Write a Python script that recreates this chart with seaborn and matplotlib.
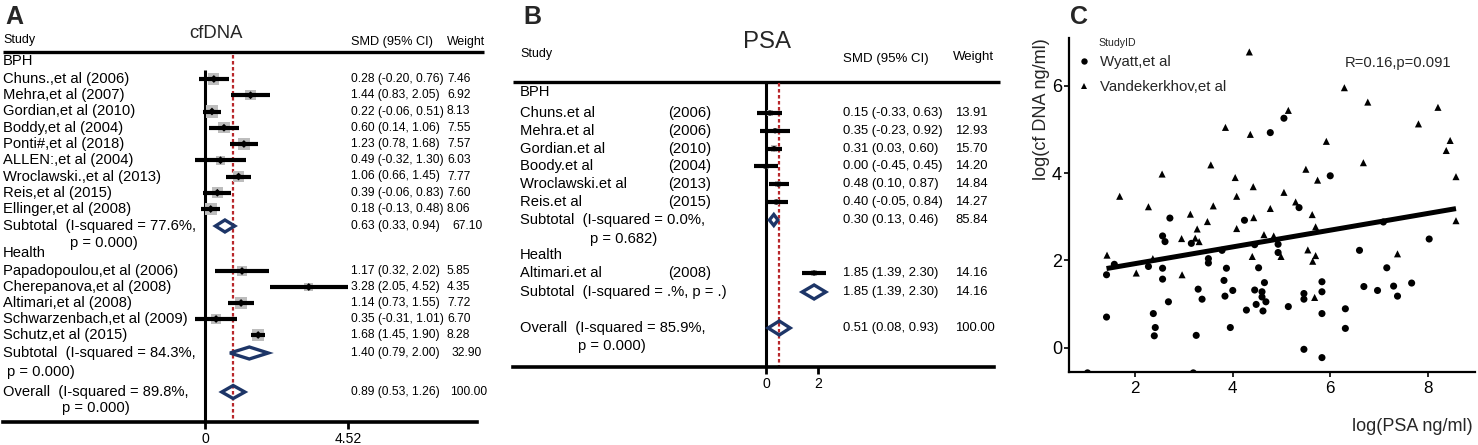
import numpy as np
import pandas as pd
import matplotlib
matplotlib.use("Agg")
import matplotlib.pyplot as plt
import seaborn as sns

# ======================= DATA =======================
# ---- Panel A : cfDNA forest plot ----
a_bph_study = ["Chuns.,et al (2006)", "Mehra,et al (2007)", "Gordian,et al (2010)",
               "Boddy,et al (2004)", "Ponti#,et al (2018)", "ALLEN:,et al (2004)",
               "Wroclawski.,et al (2013)", "Reis,et al (2015)", "Ellinger,et al (2008)"]
a_bph_smd = [0.28, 1.44, 0.22, 0.60, 1.23, 0.49, 1.06, 0.39, 0.18]
a_bph_lo = [-0.20, 0.83, -0.06, 0.14, 0.78, -0.32, 0.66, -0.06, -0.13]
a_bph_hi = [0.76, 2.05, 0.51, 1.06, 1.68, 1.30, 1.45, 0.83, 0.48]
a_bph_wt = [7.46, 6.92, 8.13, 7.55, 7.57, 6.03, 7.77, 7.60, 8.06]
a_hl_study = ["Papadopoulou,et al (2006)", "Cherepanova,et al (2008)", "Altimari,et al (2008)",
              "Schwarzenbach,et al (2009)", "Schutz,et al (2015)"]
a_hl_smd = [1.17, 3.28, 1.14, 0.35, 1.68]
a_hl_lo = [0.32, 2.05, 0.73, -0.31, 1.45]
a_hl_hi = [2.02, 4.52, 1.55, 1.01, 1.90]
a_hl_wt = [5.85, 4.35, 7.72, 6.70, 8.28]
a_sub_smd = [0.63, 1.40]
a_sub_lo = [0.33, 0.79]
a_sub_hi = [0.94, 2.00]
a_sub_wt = [67.10, 32.90]
a_sub_i2 = ["77.6%", "84.3%"]
a_sub_p = ["0.000", "0.000"]
a_all_smd = [0.89]
a_all_lo = [0.53]
a_all_hi = [1.26]
a_all_wt = [100.00]
a_all_i2 = ["89.8%"]
a_all_p = ["0.000"]
a_xticks = [0, 4.52]
a_xticklabels = ["0", "4.52"]

# ---- Panel B : PSA forest plot ----
b_bph_study = ["Chuns.et al", "Mehra.et al", "Gordian.et al", "Boody.et al",
               "Wroclawski.et al", "Reis.et al"]
b_bph_year = ["(2006)", "(2006)", "(2010)", "(2004)", "(2013)", "(2015)"]
b_bph_smd = [0.15, 0.35, 0.31, 0.00, 0.48, 0.40]
b_bph_lo = [-0.33, -0.23, 0.03, -0.45, 0.10, -0.05]
b_bph_hi = [0.63, 0.92, 0.60, 0.45, 0.87, 0.84]
b_bph_wt = [13.91, 12.93, 15.70, 14.20, 14.84, 14.27]
b_hl_study = ["Altimari.et al"]
b_hl_year = ["(2008)"]
b_hl_smd = [1.85]
b_hl_lo = [1.39]
b_hl_hi = [2.30]
b_hl_wt = [14.16]
b_sub_smd = [0.30, 1.85]
b_sub_lo = [0.13, 1.39]
b_sub_hi = [0.46, 2.30]
b_sub_wt = [85.84, 14.16]
b_sub_i2 = ["0.0%", ".%"]
b_sub_p = ["0.682", "."]
b_all_smd = [0.51]
b_all_lo = [0.08]
b_all_hi = [0.93]
b_all_wt = [100.00]
b_all_i2 = ["85.9%"]
b_all_p = ["0.000"]
b_xticks = [0, 2]
b_xticklabels = ["0", "2"]

# ---- Panel C : scatter ----
c_wyatt_psa = [4.77, 5.05, 6.00, 5.36, 8.03, 2.71, 4.24, 2.56, 2.61, 3.15,
               1.41, 1.41, 1.57, 2.27, 2.56, 2.56, 2.37, 2.41, 2.39, 2.68,
               3.50, 3.50, 3.29, 3.37, 3.25, 3.19, 1.02, 3.78, 3.82, 3.87,
               3.84, 4.00, 3.95, 4.28, 4.45, 4.45, 4.48, 4.53, 4.60, 4.60,
               4.62, 4.65, 4.68, 4.93, 4.93, 5.14, 5.46, 5.46, 5.46, 5.83,
               5.83, 5.83, 5.83, 6.31, 6.31, 6.60, 6.69, 6.97, 7.16, 7.30,
               7.38, 7.67, 7.09]
c_wyatt_dna = [4.93, 5.26, 3.94, 3.21, 2.49, 2.97, 2.92, 2.56, 2.43, 2.39,
               1.67, 0.70, 1.91, 1.86, 1.82, 1.57, 0.78, 0.46, 0.27, 1.05,
               2.04, 1.94, 1.34, 1.11, 0.28, -0.58, -0.58, 2.23, 1.54, 1.82,
               1.18, 1.31, 0.46, 0.86, 2.36, 1.32, 0.99, 1.83, 1.28, 1.16,
               0.84, 1.49, 1.05, 2.37, 2.18, 0.94, 1.24, 1.11, -0.04, 1.51,
               1.28, 0.78, -0.23, 0.89, 0.44, 2.23, 1.40, 1.31, 1.83, 1.41,
               1.18, 1.48, 2.88]
c_vdk_psa = [4.34, 3.85, 4.36, 3.55, 2.55, 4.05, 4.42, 1.68, 4.08, 2.27,
             3.60, 4.77, 5.14, 6.29, 6.77, 8.21, 7.81, 5.92, 8.46, 8.38,
             6.68, 5.74, 5.50, 8.58, 5.05, 5.29, 5.63, 5.70, 8.58, 4.84,
             3.13, 3.48, 4.43, 3.27, 4.08, 2.95, 3.23, 3.31, 4.64, 1.42,
             2.02, 2.36, 2.96, 4.40, 4.99, 5.54, 5.68, 5.64, 5.70, 7.38]
c_vdk_dna = [6.78, 5.05, 4.89, 4.19, 3.98, 3.90, 3.69, 3.47, 3.47, 3.23,
             3.25, 3.19, 5.44, 5.96, 5.63, 5.51, 5.13, 4.73, 4.75, 4.52,
             4.24, 3.84, 4.09, 3.92, 3.56, 3.34, 3.05, 2.77, 2.91, 2.56,
             3.06, 2.89, 2.98, 2.72, 2.73, 2.50, 2.51, 2.43, 2.59, 2.12,
             1.71, 2.04, 1.67, 2.09, 2.09, 2.24, 1.15, 1.98, 2.11, 2.15]
c_groups = ["Wyatt,et al", "Vandekerkhov,et al"]
c_xticks = [2, 4, 6, 8]
c_yticks = [0, 2, 4, 6]
c_stat = "R=0.16,p=0.091"

# ======================= STYLE =======================
sns.set_theme(style="white")
plt.rcParams['font.family'] = ['Liberation Sans', 'DejaVu Sans']
plt.rcParams['axes.unicode_minus'] = False

W, H, DPI = 1478, 445, 100
NAVY = "#1d3567"
RED = "#b8272b"
GRAY = "#bdbdbd"

def pt(px):
    return px * 72.0 / DPI

fig = plt.figure(figsize=(W / DPI, H / DPI), dpi=DPI)
fig.patch.set_facecolor("white")


def forest_axes(L, R, zero, scale, axis_y, ax_L, ax_R, ticks, ticklabels, tick_fs):
    ax = fig.add_axes([L / W, 0, (R - L) / W, 1])
    ax.set_facecolor("none")
    X = lambda px: (px - zero) / scale
    for s in ["left", "top", "right"]:
        ax.spines[s].set_visible(False)
    ax.spines["bottom"].set_position(("data", axis_y))
    ax.spines["bottom"].set_linewidth(2.6)
    ax.spines["bottom"].set_color("black")
    ax.spines["bottom"].set_bounds(X(ax_L), X(ax_R))
    ax.set_xticks(ticks)
    ax.set_xticklabels(ticklabels)
    ax.tick_params(axis="x", direction="out", length=5, width=2, colors="black",
                   labelsize=tick_fs, pad=2, bottom=True)
    ax.tick_params(axis="y", left=False, labelleft=False)
    ax.grid(False)
    return ax, X


def draw_studies(ax, ys, smd, lo, hi, wt, sq_sizes, pt_marker, pt_size):
    df = pd.DataFrame(dict(y=ys, smd=smd, lo=lo, hi=hi, wt=wt))
    sns.scatterplot(data=df, x="smd", y="y", size="wt", sizes=sq_sizes, marker="s",
                    color=GRAY, edgecolor="none", linewidth=0, legend=False, ax=ax, zorder=3)
    ax.hlines(df["y"], df["lo"], df["hi"], color="black", lw=3, zorder=4)
    sns.scatterplot(data=df, x="smd", y="y", marker=pt_marker, color="black", s=pt_size,
                    edgecolor="none", linewidth=0, legend=False, ax=ax, zorder=5)


def draw_diamond(ax, y, est, lo, hi, h):
    ax.fill([lo, est, hi, est], [y, y - h, y, y + h], facecolor="none",
            edgecolor=NAVY, lw=2.4, zorder=6, joinstyle="miter")


def ci_text(e, l, h):
    return f"{e:.2f} ({l:.2f}, {h:.2f})"

# ======================= PANEL A =======================
A_L, A_R, A_zero, A_scale = 0, 492, 205, 143 / 4.52
A_axis = 422
axA, XA = forest_axes(A_L, A_R, A_zero, A_scale, A_axis, 3, 477, a_xticks, a_xticklabels, pt(14))
name_fs, val_fs = pt(14.8), pt(12.0)

a_bph_y = [79 + 16.25 * i for i in range(len(a_bph_study))]
a_hl_y = [271 + 16.0 * i for i in range(len(a_hl_study))]
a_sub_y = [226, 353]
a_sub_py = [243, 372]
a_sub_px = [70, 7]
a_grp_y = [61, 253]
a_all_y, a_all_py, a_all_px = 392, 408, 62

axA.hlines(52, XA(3), XA(484), color="black", lw=2.4, zorder=2)
axA.vlines(0, 70, A_axis, color="black", lw=2.2, zorder=2)
axA.vlines(a_all_smd[0], 55, A_axis, color=RED, lw=1.6, linestyles=(0, (1.6, 1.1)), zorder=2)

draw_studies(axA, a_bph_y, a_bph_smd, a_bph_lo, a_bph_hi, a_bph_wt, (40, 75), "D", 16)
draw_studies(axA, a_hl_y, a_hl_smd, a_hl_lo, a_hl_hi, a_hl_wt, (40, 75), "D", 16)
for i in range(2):
    draw_diamond(axA, a_sub_y[i], a_sub_smd[i], a_sub_lo[i], a_sub_hi[i], 6)
draw_diamond(axA, a_all_y, a_all_smd[0], a_all_lo[0], a_all_hi[0], 6.5)

T = dict(va="center", ha="left", color="black")
axA.text(XA(3), 40, "Study", fontsize=pt(12.5), **T)
axA.text(XA(216), 33, "cfDNA", fontsize=pt(18.5), va="center", ha="center")
axA.text(XA(351), 42, "SMD (95% CI)", fontsize=pt(12.8), **T)
axA.text(XA(447), 42, "Weight", fontsize=pt(12.2), **T)
axA.text(XA(3), a_grp_y[0], "BPH", fontsize=name_fs, **T)
axA.text(XA(3), a_grp_y[1], "Health", fontsize=name_fs, **T)
for names, ys, e, l, h, w in [(a_bph_study, a_bph_y, a_bph_smd, a_bph_lo, a_bph_hi, a_bph_wt),
                              (a_hl_study, a_hl_y, a_hl_smd, a_hl_lo, a_hl_hi, a_hl_wt)]:
    for i in range(len(names)):
        axA.text(XA(3), ys[i], names[i], fontsize=name_fs, **T)
        axA.text(XA(351), ys[i], ci_text(e[i], l[i], h[i]), fontsize=val_fs, **T)
        axA.text(XA(447), ys[i], f"{w[i]:.2f}", fontsize=val_fs, **T)
for i in range(2):
    axA.text(XA(3), a_sub_y[i], f"Subtotal  (I-squared = {a_sub_i2[i]},", fontsize=name_fs, **T)
    axA.text(XA(a_sub_px[i]), a_sub_py[i], f"p = {a_sub_p[i]})", fontsize=name_fs, **T)
    axA.text(XA(351), a_sub_y[i], ci_text(a_sub_smd[i], a_sub_lo[i], a_sub_hi[i]), fontsize=val_fs, **T)
    axA.text(XA(452), a_sub_y[i], f"{a_sub_wt[i]:.2f}", fontsize=val_fs, **T)
axA.text(XA(3), a_all_y, f"Overall  (I-squared = {a_all_i2[0]},", fontsize=name_fs, **T)
axA.text(XA(a_all_px), a_all_py, f"p = {a_all_p[0]})", fontsize=name_fs, **T)
axA.text(XA(351), a_all_y, ci_text(a_all_smd[0], a_all_lo[0], a_all_hi[0]), fontsize=val_fs, **T)
axA.text(XA(450), a_all_y, f"{a_all_wt[0]:.2f}", fontsize=val_fs, **T)
axA.set_xlim(XA(A_L), XA(A_R))
axA.set_ylim(H, 0)
axA.set_xlabel("")
axA.set_ylabel("")

# ======================= PANEL B =======================
B_L, B_R, B_zero, B_scale = 500, 1005, 766, 26.0
B_axis = 367
axB, XB = forest_axes(B_L, B_R, B_zero, B_scale, B_axis, 513, 994, b_xticks, b_xticklabels, pt(14))

b_bph_y = [113 + 17.8 * i for i in range(len(b_bph_study))]
b_hl_y = [273]
b_sub_y = [220, 292]
b_grp_y = [92, 255]
b_all_y, b_all_py, b_all_px = 328, 346, 578

axB.hlines(82, XB(513), XB(1000), color="black", lw=2.4, zorder=2)
axB.vlines(0, 83, B_axis, color="black", lw=2.2, zorder=2)
axB.vlines(b_all_smd[0], 83, B_axis, color=RED, lw=1.6, linestyles=(0, (1.6, 1.1)), zorder=2)

draw_studies(axB, b_bph_y, b_bph_smd, b_bph_lo, b_bph_hi, b_bph_wt, (12, 22), "o", 14)
draw_studies(axB, b_hl_y, b_hl_smd, b_hl_lo, b_hl_hi, b_hl_wt, (16, 16), "o", 14)
for i in range(2):
    draw_diamond(axB, b_sub_y[i], b_sub_smd[i], b_sub_lo[i], b_sub_hi[i], 7 if i == 1 else 5.5)
draw_diamond(axB, b_all_y, b_all_smd[0], b_all_lo[0], b_all_hi[0], 7)

bname_fs, bval_fs = pt(14.8), pt(13.0)
axB.text(XB(520), 54, "Study", fontsize=pt(12.5), **T)
axB.text(XB(767), 42, "PSA", fontsize=pt(24), va="center", ha="center")
axB.text(XB(843), 59, "SMD (95% CI)", fontsize=pt(13.2), **T)
axB.text(XB(953), 57, "Weight", fontsize=pt(13.2), **T)
axB.text(XB(520), b_grp_y[0], "BPH", fontsize=bname_fs, **T)
axB.text(XB(520), b_grp_y[1], "Health", fontsize=bname_fs, **T)
for names, years, ys, e, l, h, w in [(b_bph_study, b_bph_year, b_bph_y, b_bph_smd, b_bph_lo, b_bph_hi, b_bph_wt),
                                     (b_hl_study, b_hl_year, b_hl_y, b_hl_smd, b_hl_lo, b_hl_hi, b_hl_wt)]:
    for i in range(len(names)):
        axB.text(XB(520), ys[i], names[i], fontsize=bname_fs, **T)
        axB.text(XB(668), ys[i], years[i], fontsize=bname_fs, **T)
        axB.text(XB(843), ys[i], ci_text(e[i], l[i], h[i]), fontsize=bval_fs, **T)
        axB.text(XB(955), ys[i], f"{w[i]:.2f}", fontsize=bval_fs, **T)
axB.text(XB(520), b_sub_y[0], f"Subtotal  (I-squared = {b_sub_i2[0]},", fontsize=bname_fs, **T)
axB.text(XB(590), 239, f"p = {b_sub_p[0]})", fontsize=bname_fs, **T)
axB.text(XB(520), b_sub_y[1], f"Subtotal  (I-squared = {b_sub_i2[1]}, p = {b_sub_p[1]})", fontsize=bname_fs, **T)
for i in range(2):
    axB.text(XB(843), b_sub_y[i], ci_text(b_sub_smd[i], b_sub_lo[i], b_sub_hi[i]), fontsize=bval_fs, **T)
    axB.text(XB(955), b_sub_y[i], f"{b_sub_wt[i]:.2f}", fontsize=bval_fs, **T)
axB.text(XB(520), b_all_y, f"Overall  (I-squared = {b_all_i2[0]},", fontsize=bname_fs, **T)
axB.text(XB(b_all_px), b_all_py, f"p = {b_all_p[0]})", fontsize=bname_fs, **T)
axB.text(XB(843), b_all_y, ci_text(b_all_smd[0], b_all_lo[0], b_all_hi[0]), fontsize=bval_fs, **T)
axB.text(XB(955), b_all_y, f"{b_all_wt[0]:.2f}", fontsize=bval_fs, **T)
axB.set_xlim(XB(B_L), XB(B_R))
axB.set_ylim(H, 0)
axB.set_xlabel("")
axB.set_ylabel("")

# ======================= PANEL C =======================
C_L, C_R, C_T, C_B = 1069, 1475, 38, 372
axC = fig.add_axes([C_L / W, (H - C_B) / H, (C_R - C_L) / W, (C_B - C_T) / H])
df_c = pd.DataFrame({
    "psa": c_wyatt_psa + c_vdk_psa,
    "dna": c_wyatt_dna + c_vdk_dna,
    "StudyID": [c_groups[0]] * len(c_wyatt_psa) + [c_groups[1]] * len(c_vdk_psa),
})
xlim_c = (0.64, 8.97)
ylim_c = (-0.56, 7.1)
sns.scatterplot(data=df_c, x="psa", y="dna", style="StudyID", style_order=c_groups,
                markers={c_groups[0]: "o", c_groups[1]: "^"}, color="black", s=26,
                edgecolor="none", linewidth=0, ax=axC, zorder=3)
df_fit = df_c[(df_c["dna"] >= ylim_c[0])]
sns.regplot(data=df_fit, x="psa", y="dna", scatter=False, ci=None, color="black",
            line_kws=dict(lw=3.6, solid_capstyle="butt"), ax=axC, truncate=True)
axC.set_xlim(*xlim_c)
axC.set_ylim(*ylim_c)
axC.set_xticks(c_xticks)
axC.set_yticks(c_yticks)
for s in ["top", "right"]:
    axC.spines[s].set_visible(False)
for s in ["left", "bottom"]:
    axC.spines[s].set_visible(True)
    axC.spines[s].set_color("black")
    axC.spines[s].set_linewidth(1.6)
axC.tick_params(axis="both", direction="out", length=3.5, width=1.2, colors="black",
                left=True, bottom=True)
axC.tick_params(axis="y", labelsize=pt(18), pad=1.5)
axC.tick_params(axis="x", labelsize=pt(17), pad=3)
axC.grid(False)
axC.set_xlabel("log(PSA ng/ml)", fontsize=pt(18), loc="right")
axC.xaxis.set_label_coords(0.993, (C_B - 418) / (C_B - C_T))
axC.set_ylabel("log(cf DNA ng/ml)", fontsize=pt(18), loc="top")
axC.yaxis.set_label_coords((1050 - C_L) / (C_R - C_L), 1.0)

handles, labels = axC.get_legend_handles_labels()
hl = [(h, l) for h, l in zip(handles, labels) if l in c_groups]
leg = axC.legend([h for h, _ in hl], [l for _, l in hl], loc="upper left",
                 bbox_to_anchor=((1076 - C_L) / (C_R - C_L), (C_B - 55) / (C_B - C_T)),
                 frameon=False, fontsize=pt(15), handlelength=1.0, handletextpad=0.6,
                 borderpad=0, borderaxespad=0, labelspacing=0.75, markerscale=0.9)
axC.text((1098 - C_L) / (C_R - C_L), (C_B - 43) / (C_B - C_T), "StudyID",
         transform=axC.transAxes, fontsize=pt(10.5), va="center", ha="left")
axC.text(6.29, 6.52, c_stat, fontsize=pt(14.8), va="center", ha="left")

# ======================= PANEL LETTERS =======================
for x, lab in [(5, "A"), (523, "B"), (1070, "C")]:
    fig.text(x / W, 1 - 5 / H, lab, fontsize=pt(25), fontweight="bold", va="top", ha="left")

fig.savefig("out.png", dpi=DPI, facecolor="white")
